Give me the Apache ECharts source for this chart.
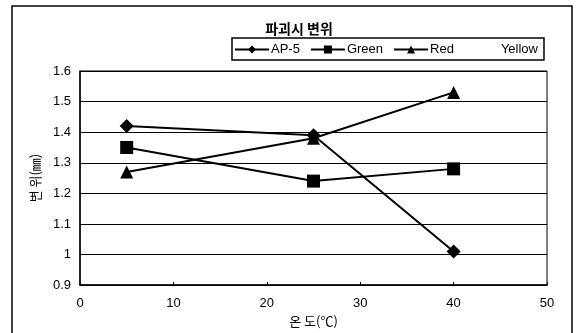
<!DOCTYPE html>
<html>
<head>
<meta charset="utf-8">
<script src="https://cdn.jsdelivr.net/npm/echarts@6/dist/echarts.min.js"></script>
<style>
html,body{margin:0;padding:0;background:#fff;}
#c{width:576px;height:333px;}
</style>
</head>
<body>
<div id="c"></div>
<script>
const temps = [5, 25, 40];
const ap5 = [1.42, 1.39, 1.01];
const green = [1.35, 1.24, 1.28];
const red = [1.27, 1.38, 1.53];
const yellow = [];
const seriesNames = ['AP-5', 'Green', 'Red', 'Yellow'];
const xTicks = [0, 10, 20, 30, 40, 50];
const yTicks = [0.9, 1, 1.1, 1.2, 1.3, 1.4, 1.5, 1.6];

function pairs(xs, ys) { return ys.map((v, i) => [xs[i], v]); }

const font = '"Liberation Sans", Arial, "Noto Sans CJK KR", sans-serif';
const kfont = '"Noto Sans CJK KR", sans-serif';
const chart = echarts.init(document.getElementById('c'));
const mk = (name, data, symbol, size) => ({
  name: name,
  type: 'line',
  data: data,
  symbol: symbol,
  symbolSize: size,
  lineStyle: { color: '#000', width: 2 },
  itemStyle: { color: '#000' },
  z: 3
});
chart.setOption({
  animation: false,
  backgroundColor: '#fff',
  textStyle: { fontFamily: font },
  title: {
    text: '파괴시 변위',
    left: 294, top: 17, textAlign: 'center',
    textStyle: { fontSize: 14, fontWeight: 'bold', color: '#000', fontFamily: kfont }
  },
  legend: {
    left: 232, top: 38, width: 313, height: 24,
    padding: [5, 6, 4, 2],
    borderColor: '#000', borderWidth: 1.5,
    itemWidth: 34, itemHeight: 10, itemGap: 10,
    data: seriesNames,
    textStyle: { fontSize: 13, color: '#000', fontFamily: font, padding: [0, 0, 0, -3] },
    selectedMode: false
  },
  grid: { left: 80, right: 29, top: 71, bottom: 45, show: true, borderColor: '#000', borderWidth: 1 },
  xAxis: {
    type: 'value', min: xTicks[0], max: xTicks[xTicks.length - 1], interval: 10,
    name: '온 도(℃)', nameLocation: 'middle', nameGap: 26,
    nameTextStyle: { fontSize: 13, color: '#000', fontFamily: kfont },
    axisLine: { lineStyle: { color: '#000', width: 1.5 } },
    axisTick: { inside: true, length: 3, lineStyle: { color: '#000' } },
    axisLabel: { fontSize: 13, color: '#000', margin: 12, fontFamily: font },
    splitLine: { show: false }
  },
  yAxis: {
    type: 'value', min: yTicks[0], max: yTicks[yTicks.length - 1], interval: 0.1,
    name: '변 위(㎜)', nameLocation: 'middle', nameGap: 38, nameRotate: 90,
    nameTextStyle: { fontSize: 13, color: '#000', fontFamily: kfont },
    axisLine: { show: true, lineStyle: { color: '#000', width: 1.5 } },
    axisTick: { show: false },
    axisLabel: { fontSize: 13, color: '#000', margin: 9, fontFamily: font,
      formatter: v => String(Math.round(v * 10) / 10) },
    splitLine: { show: true, lineStyle: { color: '#000', width: 1 } }
  },
  graphic: [
    { type: 'rect', shape: { x: 12, y: 6, width: 560, height: 340 }, style: { fill: 'none', stroke: '#000', lineWidth: 1.5 }, silent: true }
  ],
  series: [
    mk('AP-5', pairs(temps, ap5), 'diamond', 14),
    mk('Green', pairs(temps, green), 'rect', 13),
    mk('Red', pairs(temps, red), 'triangle', 13),
    {
      name: 'Yellow', type: 'line', data: pairs(temps, yellow), symbol: 'none',
      lineStyle: { color: '#fff', width: 2 }, itemStyle: { color: '#fff' }
    }
  ]
});
</script>
</body>
</html>
